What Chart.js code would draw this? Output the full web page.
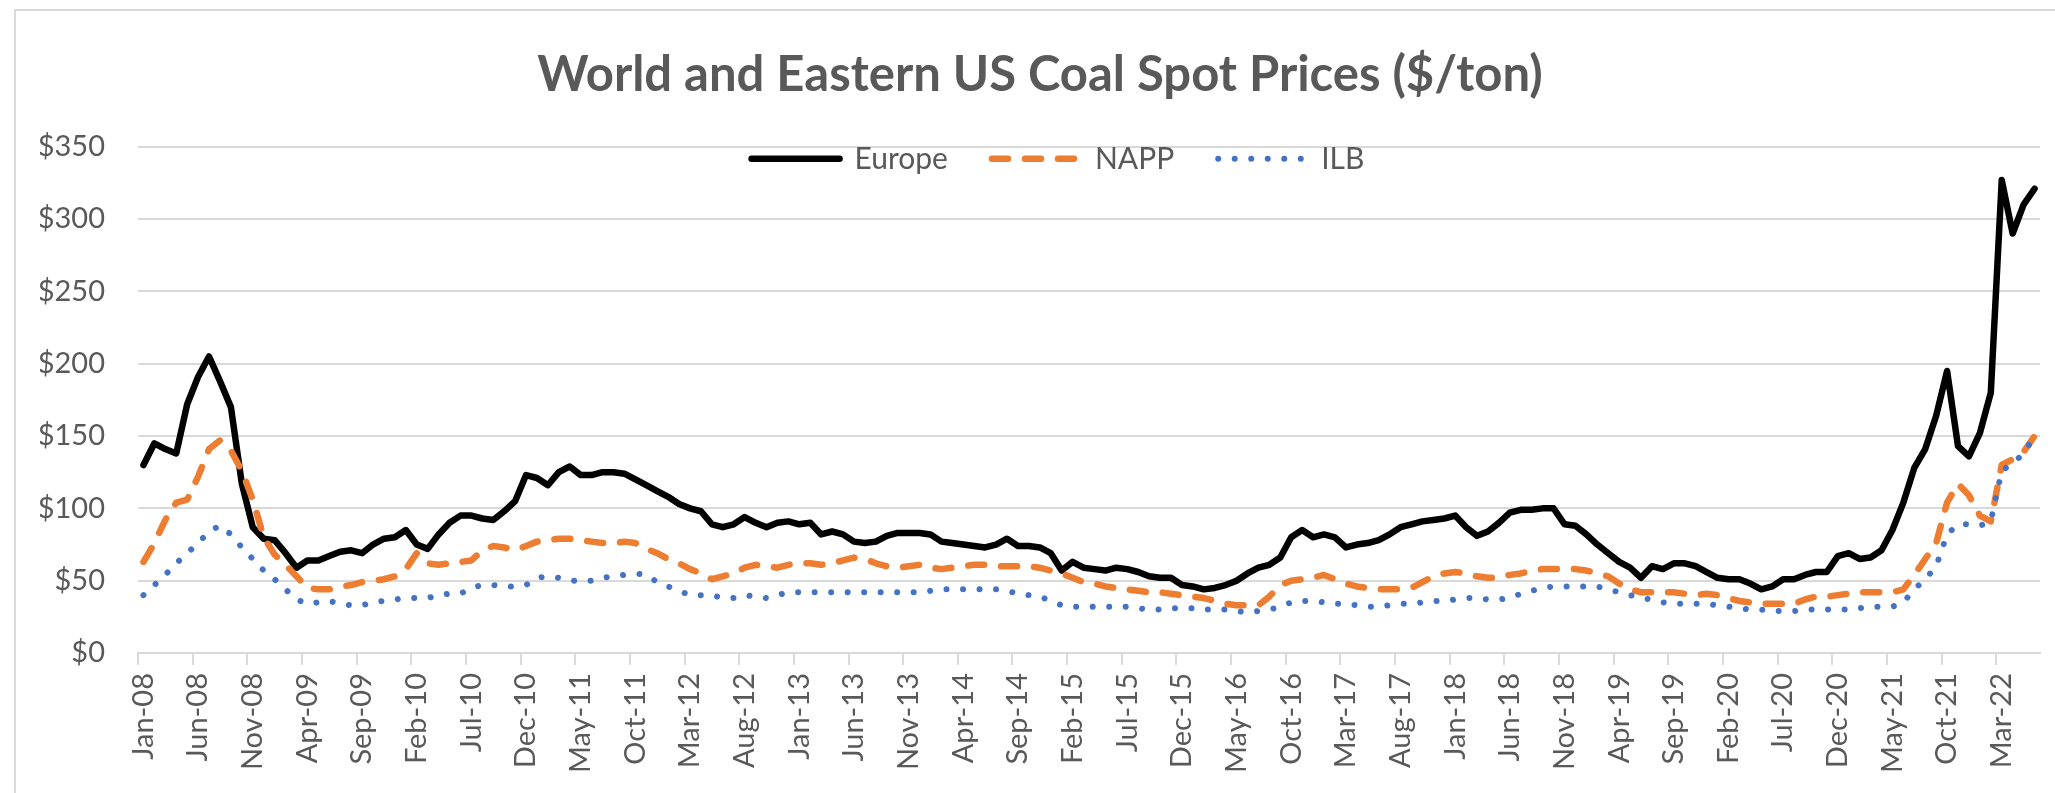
<!DOCTYPE html>
<html>
<head>
<meta charset="utf-8">
<title>World and Eastern US Coal Spot Prices</title>
<script src="https://cdn.jsdelivr.net/npm/chart.js@4.4.1/dist/chart.umd.min.js"></script>
<style>
    html, body { margin: 0; padding: 0; background: #fff; overflow: hidden; }
    #frame { position: absolute; left: 14px; top: 9px; width: 2100px; height: 900px; border: 2px solid #d9d9d9; }
    #wrap { position: absolute; left: 0; top: 0; width: 2055px; height: 793px; }
</style>
</head>
<body>
<div id="frame"></div>
<div id="wrap"><canvas id="coal-chart"></canvas></div>
<script>
// Monthly spot prices, $/ton, Jan 2008 - Jun 2022
const MONTHS = ['Jan', 'Feb', 'Mar', 'Apr', 'May', 'Jun', 'Jul', 'Aug', 'Sep', 'Oct', 'Nov', 'Dec'];
const START_YEAR = 2008;
const LABEL_STEP = 5;  // one axis label every 5 months

const europe = [
    130, 145, 141, 138, 172, 191, 205, 188, 170, 117, 87, 79,   // 2008
    78, 69, 59, 64, 64, 67, 70, 71, 69, 75, 79, 80,             // 2009
    85, 75, 72, 82, 90, 95, 95, 93, 92, 98, 105, 123,           // 2010
    121, 116, 125, 129, 123, 123, 125, 125, 124, 120, 116, 112, // 2011
    108, 103, 100, 98, 89, 87, 89, 94, 90, 87, 90, 91,          // 2012
    89, 90, 82, 84, 82, 77, 76, 77, 81, 83, 83, 83,             // 2013
    82, 77, 76, 75, 74, 73, 75, 79, 74, 74, 73, 69,             // 2014
    57, 63, 59, 58, 57, 59, 58, 56, 53, 52, 52, 47,             // 2015
    46, 44, 45, 47, 50, 55, 59, 61, 66, 80, 85, 80,             // 2016
    82, 80, 73, 75, 76, 78, 82, 87, 89, 91, 92, 93,             // 2017
    95, 87, 81, 84, 90, 97, 99, 99, 100, 100, 89, 88,           // 2018
    82, 75, 69, 63, 59, 52, 60, 58, 62, 62, 60, 56,             // 2019
    52, 51, 51, 48, 44, 46, 51, 51, 54, 56, 56, 67,             // 2020
    69, 65, 66, 71, 85, 104, 128, 141, 164, 195, 143, 136,      // 2021
    152, 180, 327, 290, 310, 321                                // 2022
];

const napp = [
    63, 76, 92, 104, 106, 122, 141, 147, 140, 126, 106, 80,     // 2008
    68, 61, 53, 45, 44, 44, 46, 47, 49, 50, 51, 53,             // 2009
    58, 69, 62, 61, 62, 63, 64, 71, 74, 73, 71, 74,             // 2010
    77, 78, 79, 79, 78, 77, 76, 76, 77, 76, 72, 69,             // 2011
    65, 62, 58, 55, 51, 53, 55, 59, 61, 60, 59, 61,             // 2012
    62, 62, 61, 62, 64, 66, 65, 62, 60, 59, 60, 61,             // 2013
    59, 58, 59, 60, 61, 61, 60, 60, 60, 60, 59, 57,             // 2014
    55, 52, 49, 48, 46, 45, 44, 43, 42, 42, 41, 40,             // 2015
    39, 38, 36, 34, 33, 33, 33, 39, 47, 50, 51, 52,             // 2016
    54, 51, 48, 46, 45, 44, 44, 44, 45, 49, 53, 55,             // 2017
    56, 55, 53, 52, 52, 54, 55, 57, 58, 58, 58, 58,             // 2018
    57, 55, 53, 48, 44, 42, 42, 42, 42, 41, 40, 41,             // 2019
    40, 38, 36, 35, 34, 34, 34, 34, 37, 39, 39, 40,             // 2020
    41, 42, 42, 42, 42, 44, 54, 65, 76, 104, 117, 109,          // 2021
    95, 91, 130, 134, 139, 150                                  // 2022
];

const ilb = [
    40, 47, 54, 62, 69, 76, 84, 88, 82, 73, 65, 57,             // 2008
    51, 44, 37, 34, 35, 36, 34, 33, 33, 35, 36, 37,             // 2009
    38, 38, 38, 40, 41, 41, 45, 47, 47, 46, 46, 47,             // 2010
    52, 53, 52, 50, 50, 50, 52, 53, 54, 55, 54, 49,             // 2011
    46, 43, 40, 40, 40, 38, 38, 40, 39, 38, 40, 42,             // 2012
    42, 42, 42, 42, 42, 42, 42, 42, 42, 42, 42, 42,             // 2013
    43, 44, 44, 44, 44, 44, 44, 43, 41, 40, 39, 36,             // 2014
    33, 32, 32, 32, 32, 32, 32, 31, 30, 30, 31, 31,             // 2015
    31, 30, 30, 30, 29, 28, 29, 30, 32, 35, 36, 36,             // 2016
    35, 34, 34, 33, 32, 32, 33, 34, 34, 35, 36, 36,             // 2017
    37, 38, 38, 37, 37, 38, 41, 43, 45, 46, 46, 46,             // 2018
    46, 46, 44, 42, 40, 38, 37, 35, 34, 34, 34, 34,             // 2019
    33, 32, 31, 30, 30, 29, 29, 29, 30, 30, 30, 30,             // 2020
    30, 31, 32, 32, 32, 35, 44, 51, 60, 82, 89, 89,             // 2021
    88, 91, 126, 131, 138, 150                                  // 2022
];

// "Jan-08", "Feb-08", ...
const labels = europe.map(function(_, i) {
    const yy = (START_YEAR + Math.floor(i / 12)) % 100;
    return MONTHS[i % 12] + '-' + String(yy).padStart(2, '0');
});

const TEXT_GREY = '#595959';
const GRID_GREY = '#d9d9d9';

// Excel-style legend drawn inside the plot, just under the top gridline
const inlineLegend = {
    id: 'inlineLegend',
    afterDraw(chart) {
        const ctx = chart.ctx;
        const sets = chart.data.datasets;
        const sampleLen = 88;
        const textGap = 107;
        const itemGap = 40;
        ctx.save();
        ctx.font = '30px Lato';
        ctx.textBaseline = 'middle';
        const widths = sets.map(ds => ctx.measureText(ds.label).width);
        let total = itemGap * (sets.length - 1);
        widths.forEach(w => { total += textGap + w; });
        let x = 1056 - total / 2;
        const y = chart.chartArea.top + 12;
        sets.forEach(function(ds, i) {
            ctx.beginPath();
            ctx.setLineDash(ds.borderDash || []);
            ctx.lineCap = ds.borderCapStyle || 'butt';
            ctx.lineWidth = ds.borderWidth;
            ctx.strokeStyle = ds.borderColor;
            ctx.moveTo(x + 4, y);
            ctx.lineTo(x + 4 + sampleLen, y);
            ctx.stroke();
            ctx.setLineDash([]);
            ctx.fillStyle = TEXT_GREY;
            ctx.fillText(ds.label, x + textGap, y + 1);
            x += textGap + widths[i] + itemGap;
        });
        ctx.restore();
    }
};

const ctx = document.getElementById('coal-chart').getContext('2d');
window.coalChart = new Chart(ctx, {
    type: 'line',
    data: {
        labels: labels,
        datasets: [
            {
                label: 'Europe',
                data: europe,
                borderColor: '#000000',
                borderWidth: 6.5,
                borderCapStyle: 'round',
                borderJoinStyle: 'round',
                order: 2
            },
            {
                label: 'NAPP',
                data: napp,
                borderColor: '#ED7D31',
                borderWidth: 6.5,
                borderDash: [16, 17],
                borderCapStyle: 'round',
                borderJoinStyle: 'round',
                order: 1
            },
            {
                label: 'ILB',
                data: ilb,
                borderColor: '#4472C4',
                borderWidth: 6,
                borderDash: [0.01, 16.5],
                borderCapStyle: 'round',
                borderJoinStyle: 'round',
                order: 0
            }
        ]
    },
    options: {
        responsive: true,
        maintainAspectRatio: false,
        animation: false,
        devicePixelRatio: 1,
        layout: { padding: { left: 40, right: 15, top: 0, bottom: 0 } },
        elements: {
            point: { radius: 0, hoverRadius: 0 },
            line: { tension: 0 }
        },
        plugins: {
            legend: { display: false },
            tooltip: { enabled: false },
            title: {
                display: true,
                text: 'World and Eastern US Coal Spot Prices ($/ton)',
                color: TEXT_GREY,
                font: { family: 'Lato', size: 49, weight: 'bold' },
                padding: { top: 46, bottom: 42 }
            }
        },
        scales: {
            x: {
                offset: true,
                grid: {
                    offset: true,
                    drawOnChartArea: false,
                    drawTicks: true,
                    tickLength: 12,
                    lineWidth: 2,
                    tickColor: c => (c.index % LABEL_STEP === 0 ? GRID_GREY : 'rgba(0,0,0,0)')
                },
                border: { display: true, color: GRID_GREY, width: 2 },
                ticks: {
                    autoSkip: false,
                    minRotation: 90,
                    maxRotation: 90,
                    padding: 8,
                    color: TEXT_GREY,
                    font: { family: 'Lato', size: 29 },
                    callback: function(value, index) {
                        return index % LABEL_STEP === 0 ? this.getLabelForValue(value) : '';
                    }
                },
                afterFit: function(scale) {
                    scale.height = 140;
                    // keep the plot running right up to the frame edge
                    scale.paddingLeft = 0;
                    scale.paddingRight = 0;
                }
            },
            y: {
                min: 0,
                max: 350,
                grid: { color: GRID_GREY, lineWidth: 2, drawTicks: false },
                border: { display: false },
                ticks: {
                    stepSize: 50,
                    padding: 33,
                    color: TEXT_GREY,
                    font: { family: 'Lato', size: 29 },
                    callback: v => '$' + v
                },
                afterFit: function(scale) { scale.width = 98; }
            }
        }
    },
    plugins: [inlineLegend]
});
</script>
</body>
</html>
